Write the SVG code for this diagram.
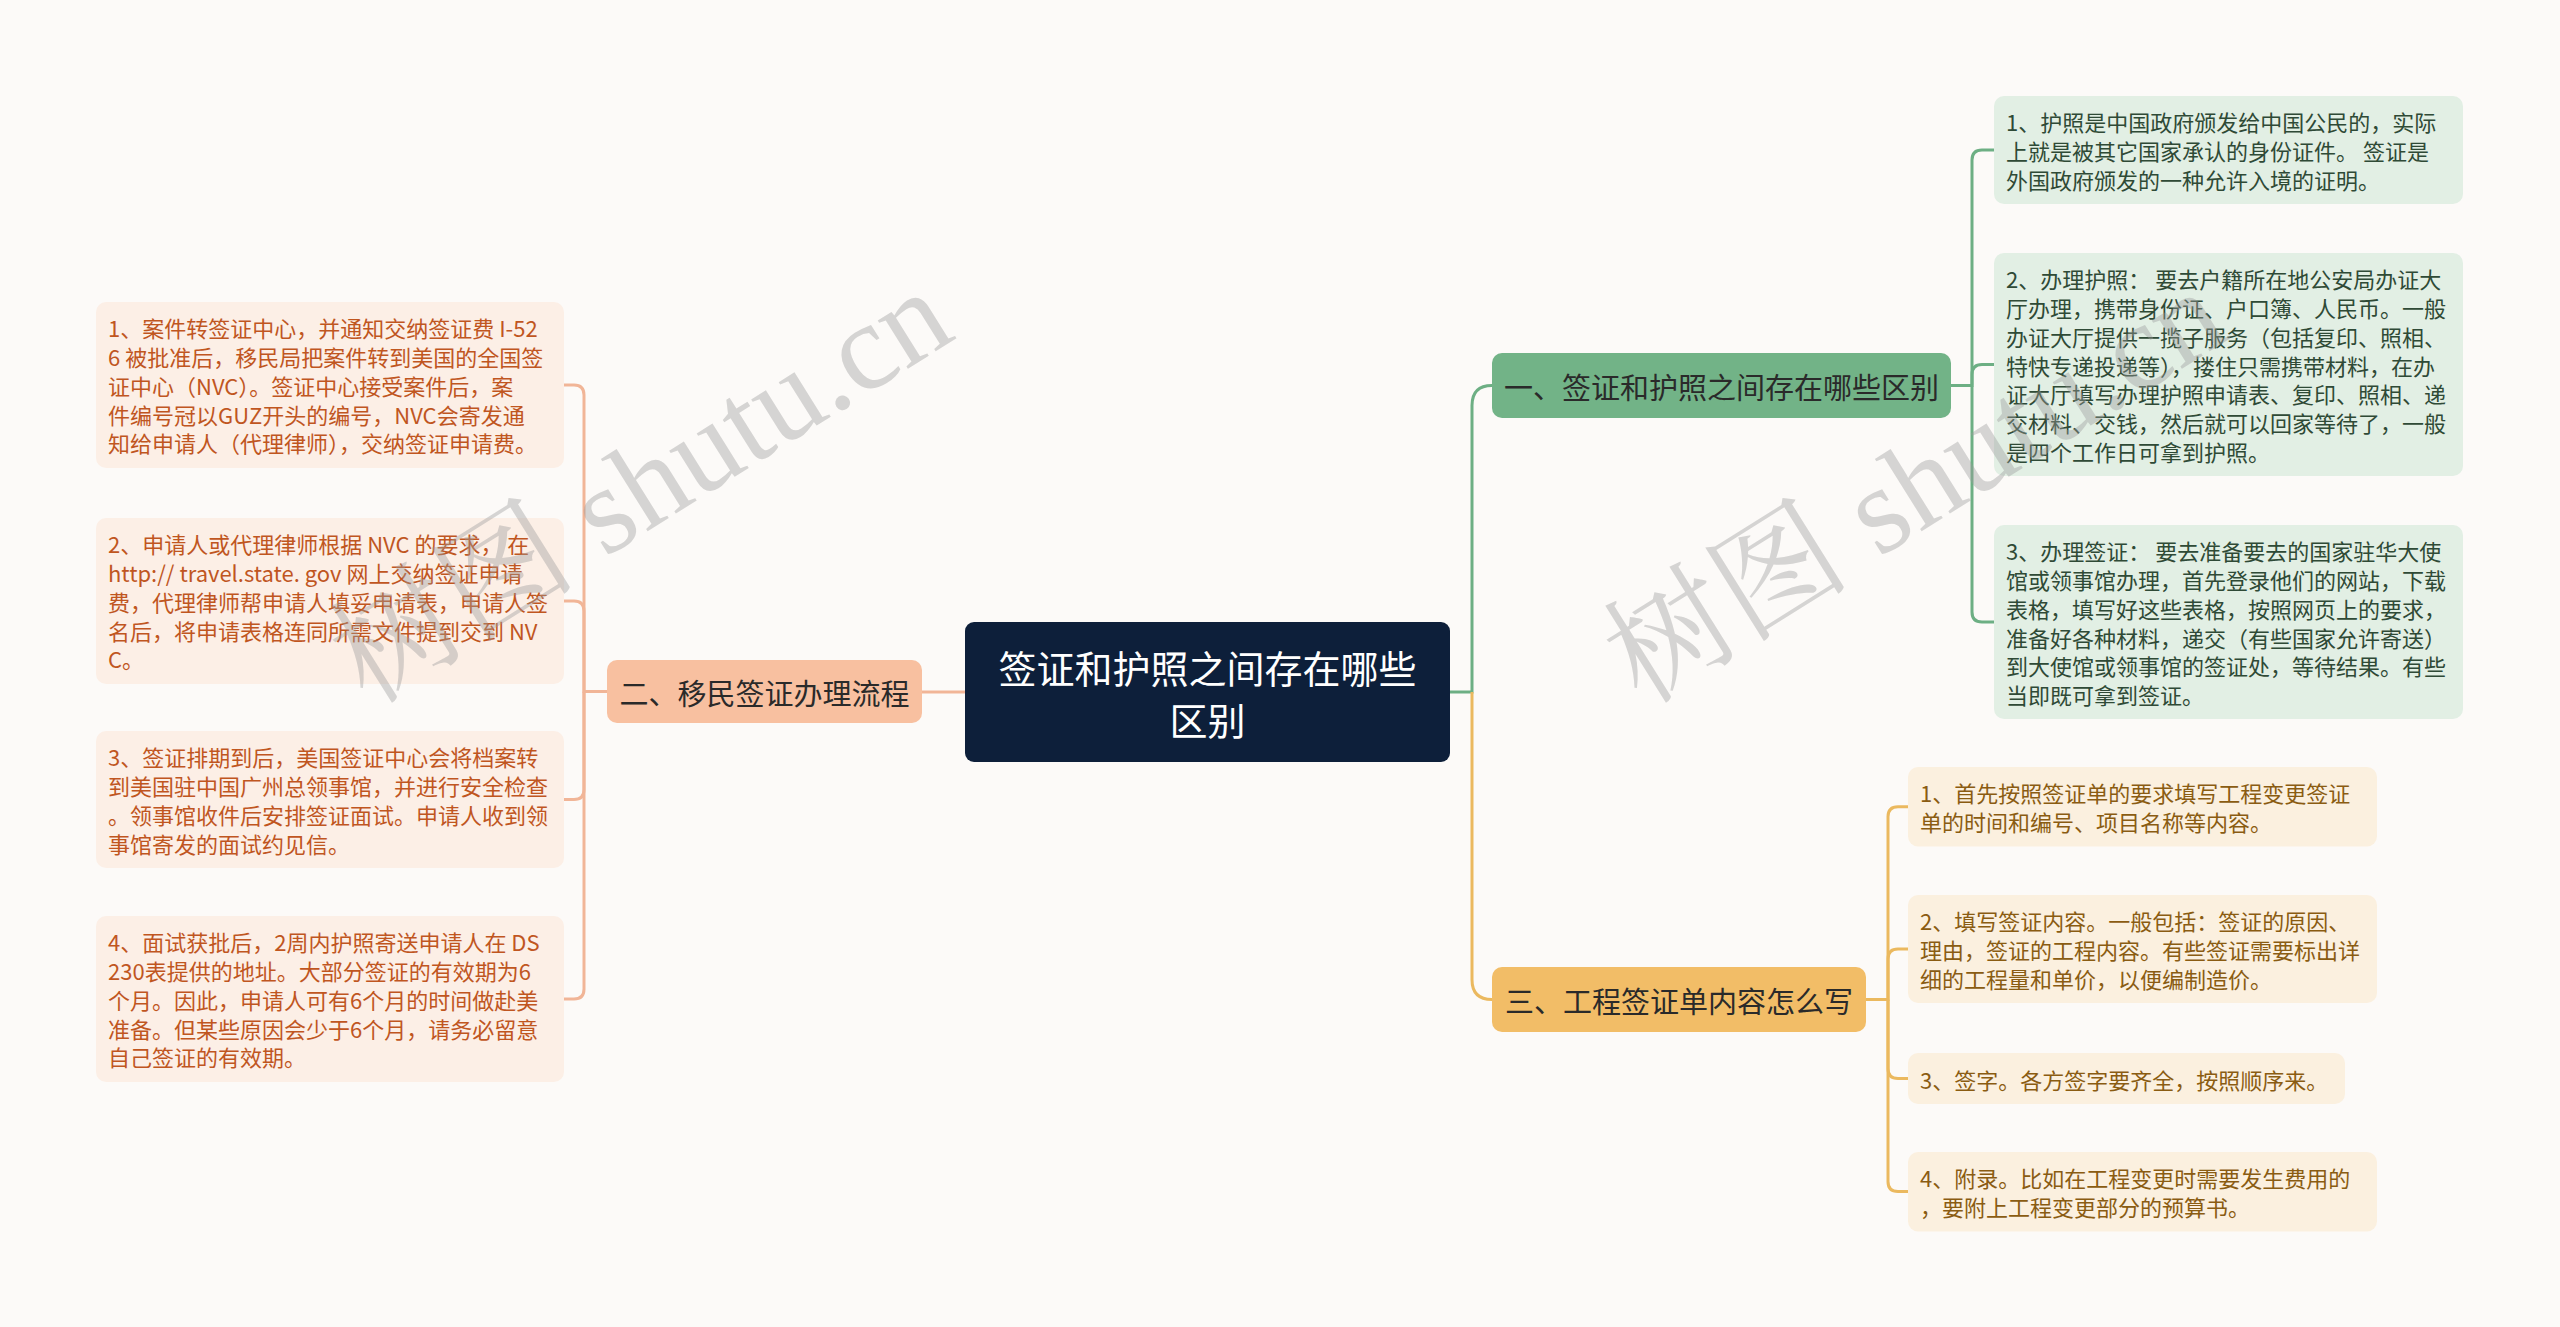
<svg xmlns="http://www.w3.org/2000/svg" width="2560" height="1327" viewBox="0 0 2560 1327">
<style>
text{font-family:"Noto Sans CJK SC","Liberation Sans",sans-serif;}
.leaf{font-size:22px;dominant-baseline:central;}
.lp rect{fill:#fcefe6;} .lp text{fill:#c0561f;}
.lg rect{fill:#e2efe4;} .lg text{fill:#2f4a36;}
.ly rect{fill:#fbf0df;} .ly text{fill:#8a5c12;}
.br{font-size:29px;fill:#2a2a2a;text-anchor:middle;dominant-baseline:central;}
.c{fill:none;stroke-width:3;}
.cp{stroke:#f1b597;} .cg{stroke:#6daf84;} .cy{stroke:#ebb95f;}
.wm{font-family:"Liberation Serif","Noto Serif CJK SC","Noto Sans CJK SC",serif;font-size:124px;fill:#9a9a9a;fill-opacity:0.4;}
</style>
<rect width="2560" height="1327" fill="#fcfaf8"/>

<g id="connectors">
  <path class="c cp" d="M965 692 H922"/>
  <path class="c cp" d="M607 691.5 H584 V395 Q584 385 574 385 H564"/>
  <path class="c cp" d="M584 691.5 V611 Q584 601 574 601 H564"/>
  <path class="c cp" d="M584 691.5 V789.5 Q584 799.5 574 799.5 H564"/>
  <path class="c cp" d="M584 691.5 V989 Q584 999 574 999 H564"/>
  <path class="c cg" d="M1450 692 H1472 V405.5 Q1472 385.5 1492 385.5"/>
  <path class="c cy" d="M1472 692 V979.5 Q1472 999.5 1492 999.5"/>
  <path class="c cg" d="M1951 385.5 H1972 V160 Q1972 150 1982 150 H1994"/>
  <path class="c cg" d="M1972 385.5 V374.5 Q1972 364.5 1982 364.5 H1994"/>
  <path class="c cg" d="M1972 385.5 V612 Q1972 622 1982 622 H1994"/>
  <path class="c cy" d="M1866 999.5 H1888 V816.7 Q1888 806.7 1898 806.7 H1908"/>
  <path class="c cy" d="M1888 999.5 V959 Q1888 949 1898 949 H1908"/>
  <path class="c cy" d="M1888 999.5 V1068.5 Q1888 1078.5 1898 1078.5 H1908"/>
  <path class="c cy" d="M1888 999.5 V1181.5 Q1888 1191.5 1898 1191.5 H1908"/>
</g>

<g id="center">
  <rect x="965" y="622" width="485" height="140" rx="9" fill="#0d1f3a"/>
  <text x="1207.5" y="666" font-size="38" fill="#ffffff" text-anchor="middle" dominant-baseline="central">签证和护照之间存在哪些</text>
  <text x="1207.5" y="718" font-size="38" fill="#ffffff" text-anchor="middle" dominant-baseline="central">区别</text>
</g>

<g id="branch-1">
  <rect x="1492" y="353" width="459" height="65" rx="10" fill="#72b387"/>
  <text class="br" x="1721.5" y="385.5">一、签证和护照之间存在哪些区别</text>
</g>
<g id="branch-2">
  <rect x="607" y="660" width="315" height="63" rx="10" fill="#f8c0a0"/>
  <text class="br" x="764.5" y="691.5">二、移民签证办理流程</text>
</g>
<g id="branch-3">
  <rect x="1492" y="967" width="374" height="65" rx="10" fill="#f2bd67"/>
  <text class="br" x="1679" y="999.5">三、工程签证单内容怎么写</text>
</g>

<g id="leaf-2-1" class="lp">
  <rect x="96" y="302" width="468" height="166" rx="10"/>
  <text class="leaf" x="108"><tspan x="108" y="327.4">1、案件转签证中心，并通知交纳签证费 I-52</tspan><tspan x="108" y="356.1">6 被批准后，移民局把案件转到美国的全国签</tspan><tspan x="108" y="384.8">证中心（NVC）。签证中心接受案件后，案</tspan><tspan x="108" y="413.5">件编号冠以GUZ开头的编号，NVC会寄发通</tspan><tspan x="108" y="442.2">知给申请人（代理律师），交纳签证申请费。</tspan></text>
</g>
<g id="leaf-2-2" class="lp">
  <rect x="96" y="518" width="468" height="166" rx="10"/>
  <text class="leaf" x="108"><tspan x="108" y="543.4">2、申请人或代理律师根据 NVC 的要求， 在</tspan><tspan x="108" y="572.1">http:// travel.state. gov 网上交纳签证申请</tspan><tspan x="108" y="600.8">费，代理律师帮申请人填妥申请表，申请人签</tspan><tspan x="108" y="629.5">名后，将申请表格连同所需文件提到交到 NV</tspan><tspan x="108" y="658.2">C。</tspan></text>
</g>
<g id="leaf-2-3" class="lp">
  <rect x="96" y="731" width="468" height="137" rx="10"/>
  <text class="leaf" x="108"><tspan x="108" y="756.4">3、签证排期到后，美国签证中心会将档案转</tspan><tspan x="108" y="785.1">到美国驻中国广州总领事馆，并进行安全检查</tspan><tspan x="108" y="813.8">。领事馆收件后安排签证面试。申请人收到领</tspan><tspan x="108" y="842.5">事馆寄发的面试约见信。</tspan></text>
</g>
<g id="leaf-2-4" class="lp">
  <rect x="96" y="916" width="468" height="166" rx="10"/>
  <text class="leaf" x="108"><tspan x="108" y="941.4">4、面试获批后，2周内护照寄送申请人在 DS</tspan><tspan x="108" y="970.1">230表提供的地址。大部分签证的有效期为6</tspan><tspan x="108" y="998.8">个月。因此，申请人可有6个月的时间做赴美</tspan><tspan x="108" y="1027.5">准备。但某些原因会少于6个月，请务必留意</tspan><tspan x="108" y="1056.2">自己签证的有效期。</tspan></text>
</g>

<g id="leaf-1-1" class="lg">
  <rect x="1994" y="96" width="469" height="108" rx="10"/>
  <text class="leaf" x="2006"><tspan x="2006" y="121.4">1、护照是中国政府颁发给中国公民的，实际</tspan><tspan x="2006" y="150.1">上就是被其它国家承认的身份证件。 签证是</tspan><tspan x="2006" y="178.8">外国政府颁发的一种允许入境的证明。</tspan></text>
</g>
<g id="leaf-1-2" class="lg">
  <rect x="1994" y="253" width="469" height="223" rx="10"/>
  <text class="leaf" x="2006"><tspan x="2006" y="278.4">2、办理护照： 要去户籍所在地公安局办证大</tspan><tspan x="2006" y="307.1">厅办理，携带身份证、户口簿、人民币。一般</tspan><tspan x="2006" y="335.8">办证大厅提供一揽子服务（包括复印、照相、</tspan><tspan x="2006" y="364.5">特快专递投递等），搂住只需携带材料，在办</tspan><tspan x="2006" y="393.2">证大厅填写办理护照申请表、复印、照相、递</tspan><tspan x="2006" y="421.9">交材料、交钱，然后就可以回家等待了，一般</tspan><tspan x="2006" y="450.6">是四个工作日可拿到护照。</tspan></text>
</g>
<g id="leaf-1-3" class="lg">
  <rect x="1994" y="525" width="469" height="194" rx="10"/>
  <text class="leaf" x="2006"><tspan x="2006" y="550.4">3、办理签证： 要去准备要去的国家驻华大使</tspan><tspan x="2006" y="579.1">馆或领事馆办理，首先登录他们的网站，下载</tspan><tspan x="2006" y="607.8">表格，填写好这些表格，按照网页上的要求，</tspan><tspan x="2006" y="636.5">准备好各种材料，递交（有些国家允许寄送）</tspan><tspan x="2006" y="665.2">到大使馆或领事馆的签证处，等待结果。有些</tspan><tspan x="2006" y="693.9">当即既可拿到签证。</tspan></text>
</g>

<g id="leaf-3-1" class="ly">
  <rect x="1908" y="767" width="469" height="79.4" rx="10"/>
  <text class="leaf" x="1920"><tspan x="1920" y="792.4">1、首先按照签证单的要求填写工程变更签证</tspan><tspan x="1920" y="821.1">单的时间和编号、项目名称等内容。</tspan></text>
</g>
<g id="leaf-3-2" class="ly">
  <rect x="1908" y="895" width="469" height="108" rx="10"/>
  <text class="leaf" x="1920"><tspan x="1920" y="920.4">2、填写签证内容。一般包括：签证的原因、</tspan><tspan x="1920" y="949.1">理由，签证的工程内容。有些签证需要标出详</tspan><tspan x="1920" y="977.8">细的工程量和单价，以便编制造价。</tspan></text>
</g>
<g id="leaf-3-3" class="ly">
  <rect x="1908" y="1053" width="437" height="51" rx="10"/>
  <text class="leaf" x="1920" y="1078.5">3、签字。各方签字要齐全，按照顺序来。</text>
</g>
<g id="leaf-3-4" class="ly">
  <rect x="1908" y="1152" width="469" height="79.4" rx="10"/>
  <text class="leaf" x="1920"><tspan x="1920" y="1177.4">4、附录。比如在工程变更时需要发生费用的</tspan><tspan x="1920" y="1206.1">，要附上工程变更部分的预算书。</tspan></text>
</g>

<g id="watermark">
  <text class="wm" transform="translate(368,706) rotate(-32)">树图 shutu.cn</text>
  <text class="wm" transform="translate(1642,706) rotate(-32)">树图 shutu.cn</text>
</g>
</svg>
